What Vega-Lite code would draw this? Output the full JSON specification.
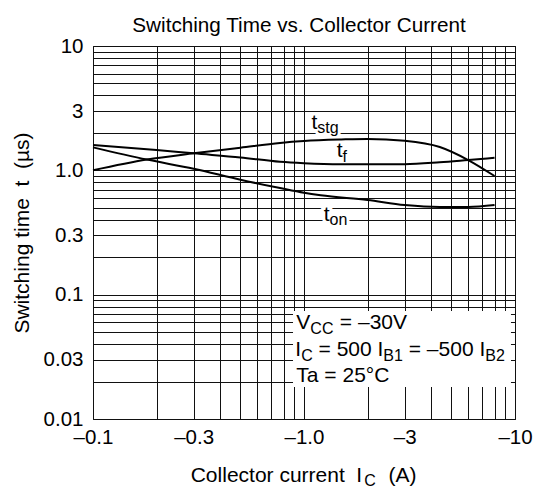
{
  "$schema": "https://vega.github.io/schema/vega-lite/v6.json",
  "width": 422,
  "height": 373,
  "autosize": {"type": "none"},
  "padding": {"left": 93, "top": 46, "right": 20, "bottom": 69},
  "title": {"text": "Switching Time vs. Collector Current", "fontSize": 20.7, "font": "Liberation Sans", "fontWeight": "normal", "color": "black", "frame": "group", "anchor": "middle", "dx": -5, "dy": 25, "baseline": "alphabetic", "offset": 8},
  "config": {
    "font": "Liberation Sans",
    "view": {"stroke": "black", "strokeWidth": 1},
    "axis": {"grid": true, "gridColor": "#111", "gridWidth": 1, "gridOpacity": 1, "ticks": false, "domain": false, "labelColor": "black", "labelFontSize": 20.5, "labelFont": "Liberation Sans", "labelOverlap": false, "labelFlush": false, "labelBound": false, "titleColor": "black", "titleFont": "Liberation Sans", "titleFontWeight": "normal", "titleFontSize": 21},
    "text": {"font": "Liberation Sans", "color": "black"}
  },
  "encoding": {
    "x": {"field": "I", "type": "quantitative",
      "scale": {"type": "log", "domain": [0.1, 10], "nice": false},
      "axis": {"values": [0.1,0.2,0.3,0.4,0.5,0.6,0.7,0.8,0.9,1,2,3,4,5,6,7,8,9,10], "labelPadding": 8.5, "title": null,
        "labelExpr": "datum.value==0.1?'–0.1':datum.value==0.3?'–0.3':datum.value==1?'–1.0':datum.value==3?'–3':datum.value==10?'–10':''"}},
    "y": {"field": "t", "type": "quantitative",
      "scale": {"type": "log", "domain": [0.01, 10], "nice": false},
      "axis": {"values": [0.01,0.02,0.03,0.04,0.05,0.06,0.07,0.08,0.09,0.1,0.2,0.3,0.4,0.5,0.6,0.7,0.8,0.9,1,2,3,4,5,6,7,8,9,10], "labelPadding": 10, "title": "Switching time\u00a0\u00a0t\u00a0\u00a0(µs)", "titlePadding": 11,
        "labelExpr": "datum.value==0.01?'0.01':datum.value==0.03?'0.03':datum.value==0.1?'0.1':datum.value==0.3?'0.3':datum.value==1?'1.0':datum.value==3?'3':datum.value==10?'10':''"}}
  },
  "layer": [
    {
      "data": {"values": [{"I": 0.887, "I2": 9.57, "t": 0.0738, "t2": 0.0181}]},
      "mark": {"type": "rect", "fill": "white", "stroke": null},
      "encoding": {"x2": {"field": "I2"}, "y2": {"field": "t2"}}
    },
    {
      "data": {"values": [{"I": 1.085, "t": 2.15, "s": "t"}, {"I": 1.24, "t": 0.393, "s": "t"}]},
      "mark": {"type": "text", "align": "left", "baseline": "alphabetic", "fontSize": 21, "stroke": "white", "strokeWidth": 6, "fill": "white"},
      "encoding": {"text": {"field": "s"}}
    },
    {
      "data": {"values": [{"I": 1.085, "t": 2.15, "s": "stg"}]},
      "mark": {"type": "text", "align": "left", "baseline": "alphabetic", "fontSize": 16, "dx": 5.8, "dy": 4, "stroke": "white", "strokeWidth": 6, "fill": "white"},
      "encoding": {"text": {"field": "s"}}
    },
    {
      "data": {"values": [{"I": 1.24, "t": 0.393, "s": "on"}]},
      "mark": {"type": "text", "align": "left", "baseline": "alphabetic", "fontSize": 16, "dx": 5.8, "dy": 4, "stroke": "white", "strokeWidth": 6, "fill": "white"},
      "encoding": {"text": {"field": "s"}}
    },
    {
      "data": {"values": [
        {"curve": "tstg", "I": 0.1, "t": 1.0},
        {"curve": "tstg", "I": 0.18, "t": 1.22},
        {"curve": "tstg", "I": 0.3, "t": 1.37},
        {"curve": "tstg", "I": 0.5, "t": 1.52},
        {"curve": "tstg", "I": 0.77, "t": 1.66},
        {"curve": "tstg", "I": 1.0, "t": 1.72},
        {"curve": "tstg", "I": 1.5, "t": 1.77},
        {"curve": "tstg", "I": 2.0, "t": 1.79},
        {"curve": "tstg", "I": 3.0, "t": 1.73},
        {"curve": "tstg", "I": 4.4, "t": 1.54},
        {"curve": "tstg", "I": 6.0, "t": 1.21},
        {"curve": "tstg", "I": 8.0, "t": 0.9},
        {"curve": "tf", "I": 0.1, "t": 1.6},
        {"curve": "tf", "I": 0.2, "t": 1.46},
        {"curve": "tf", "I": 0.3, "t": 1.37},
        {"curve": "tf", "I": 0.5, "t": 1.27},
        {"curve": "tf", "I": 0.77, "t": 1.17},
        {"curve": "tf", "I": 1.0, "t": 1.14},
        {"curve": "tf", "I": 1.5, "t": 1.12},
        {"curve": "tf", "I": 2.0, "t": 1.12},
        {"curve": "tf", "I": 3.0, "t": 1.12},
        {"curve": "tf", "I": 4.4, "t": 1.16},
        {"curve": "tf", "I": 6.0, "t": 1.21},
        {"curve": "tf", "I": 8.0, "t": 1.26},
        {"curve": "ton", "I": 0.1, "t": 1.53},
        {"curve": "ton", "I": 0.18, "t": 1.22},
        {"curve": "ton", "I": 0.3, "t": 1.03},
        {"curve": "ton", "I": 0.5, "t": 0.84},
        {"curve": "ton", "I": 0.77, "t": 0.72},
        {"curve": "ton", "I": 1.0, "t": 0.66},
        {"curve": "ton", "I": 1.2, "t": 0.63},
        {"curve": "ton", "I": 2.0, "t": 0.577},
        {"curve": "ton", "I": 3.0, "t": 0.526},
        {"curve": "ton", "I": 4.4, "t": 0.507},
        {"curve": "ton", "I": 6.0, "t": 0.507},
        {"curve": "ton", "I": 8.0, "t": 0.526}
      ]},
      "mark": {"type": "line", "color": "black", "strokeWidth": 2, "interpolate": "monotone"},
      "encoding": {"detail": {"field": "curve"}}
    },
    {
      "data": {"values": [{"I": 1.085, "t": 2.15, "s": "t"}, {"I": 1.43, "t": 1.29, "s": "t"}, {"I": 1.24, "t": 0.393, "s": "t"}]},
      "mark": {"type": "text", "align": "left", "baseline": "alphabetic", "fontSize": 21},
      "encoding": {"text": {"field": "s"}}
    },
    {
      "data": {"values": [{"I": 1.085, "t": 2.15, "s": "stg"}, {"I": 1.24, "t": 0.393, "s": "on"}]},
      "mark": {"type": "text", "align": "left", "baseline": "alphabetic", "fontSize": 16, "dx": 5.8, "dy": 4},
      "encoding": {"text": {"field": "s"}}
    },
    {
      "data": {"values": [{"I": 1.43, "t": 1.29, "s": "f"}]},
      "mark": {"type": "text", "align": "left", "baseline": "alphabetic", "fontSize": 16, "dx": 5.8, "dy": 5},
      "encoding": {"text": {"field": "s"}}
    },
    {
      "data": {"values": [{"I": 0.92, "t": 0.0526, "s": "V"}, {"I": 0.92, "t": 0.0199, "s": "Ta = 25°C"}]},
      "mark": {"type": "text", "align": "left", "baseline": "alphabetic", "fontSize": 21},
      "encoding": {"text": {"field": "s"}}
    },
    {
      "data": {"values": [{"I": 0.92, "t": 0.0526, "s": "CC"}]},
      "mark": {"type": "text", "align": "left", "baseline": "alphabetic", "fontSize": 16, "dx": 14, "dy": 5},
      "encoding": {"text": {"field": "s"}}
    },
    {
      "data": {"values": [{"I": 0.92, "t": 0.0526, "s": "= –30V"}]},
      "mark": {"type": "text", "align": "left", "baseline": "alphabetic", "fontSize": 21, "dx": 43.5},
      "encoding": {"text": {"field": "s"}}
    },
    {
      "data": {"values": [{"I": 0.92, "t": 0.0322, "s": "I"}]},
      "mark": {"type": "text", "align": "left", "baseline": "alphabetic", "fontSize": 21, "dx": -1},
      "encoding": {"text": {"field": "s"}}
    },
    {
      "data": {"values": [{"I": 0.92, "t": 0.0322, "s": "C"}]},
      "mark": {"type": "text", "align": "left", "baseline": "alphabetic", "fontSize": 16, "dx": 4.8, "dy": 5},
      "encoding": {"text": {"field": "s"}}
    },
    {
      "data": {"values": [{"I": 0.92, "t": 0.0322, "s": "= 500 I"}]},
      "mark": {"type": "text", "align": "left", "baseline": "alphabetic", "fontSize": 21, "dx": 22.2},
      "encoding": {"text": {"field": "s"}}
    },
    {
      "data": {"values": [{"I": 0.92, "t": 0.0322, "s": "B1"}]},
      "mark": {"type": "text", "align": "left", "baseline": "alphabetic", "fontSize": 16, "dx": 87, "dy": 5},
      "encoding": {"text": {"field": "s"}}
    },
    {
      "data": {"values": [{"I": 0.92, "t": 0.0322, "s": "= –500 I"}]},
      "mark": {"type": "text", "align": "left", "baseline": "alphabetic", "fontSize": 21, "dx": 112.4},
      "encoding": {"text": {"field": "s"}}
    },
    {
      "data": {"values": [{"I": 0.92, "t": 0.0322, "s": "B2"}]},
      "mark": {"type": "text", "align": "left", "baseline": "alphabetic", "fontSize": 16, "dx": 188.9, "dy": 5},
      "encoding": {"text": {"field": "s"}}
    },
    {
      "data": {"values": [{"I": 1.0, "t": 0.01, "s": "Collector current"}]},
      "mark": {"type": "text", "align": "left", "baseline": "alphabetic", "fontSize": 21, "dx": -113.3, "dy": 62.7},
      "encoding": {"text": {"field": "s"}}
    },
    {
      "data": {"values": [{"I": 1.0, "t": 0.01, "s": "I"}]},
      "mark": {"type": "text", "align": "left", "baseline": "alphabetic", "fontSize": 21, "dx": 52.2, "dy": 62.7},
      "encoding": {"text": {"field": "s"}}
    },
    {
      "data": {"values": [{"I": 1.0, "t": 0.01, "s": "C"}]},
      "mark": {"type": "text", "align": "left", "baseline": "alphabetic", "fontSize": 16, "dx": 60.2, "dy": 67},
      "encoding": {"text": {"field": "s"}}
    },
    {
      "data": {"values": [{"I": 1.0, "t": 0.01, "s": "(A)"}]},
      "mark": {"type": "text", "align": "left", "baseline": "alphabetic", "fontSize": 21, "dx": 84.5, "dy": 62.7},
      "encoding": {"text": {"field": "s"}}
    }
  ]
}
